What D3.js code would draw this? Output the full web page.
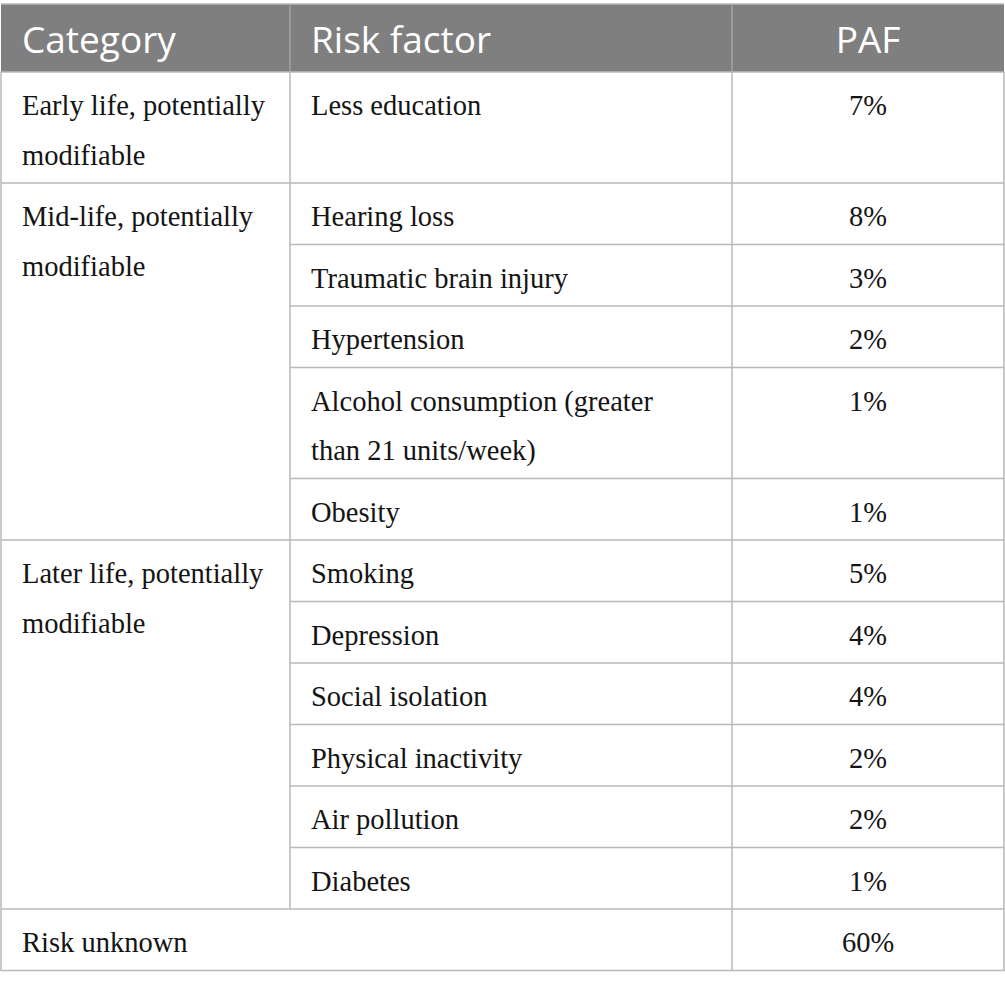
<!DOCTYPE html>
<html>
<head>
<meta charset="utf-8">
<script src="https://cdn.jsdelivr.net/npm/d3@7"></script>
<style>
  body { margin: 0; background: #fff; }
  svg { display: block; }
</style>
</head>
<body>
<div id="tabla"></div>
<script>
// datos de la tabla
const headers = ["Category", "Risk factor", "PAF"];
const categories = ["Early life, potentially modifiable", "Mid-life, potentially modifiable", "Later life, potentially modifiable"];
const factors = ["Less education", "Hearing loss", "Traumatic brain injury", "Hypertension",
    "Alcohol consumption (greater than 21 units/week)", "Obesity", "Smoking", "Depression",
    "Social isolation", "Physical inactivity", "Air pollution", "Diabetes"];
const factorGroup = [0, 1, 1, 1, 1, 1, 2, 2, 2, 2, 2, 2];
const pafValues = [7, 8, 3, 2, 1, 1, 5, 4, 4, 2, 2, 1];
const unknownLabel = "Risk unknown";
const unknownPaf = 60;

function crearTabla(width, height) {
    const top = 4, headerH = 68, lineH = 49.5, pad = 6, textX = 21;
    const x = d3.scaleOrdinal().domain(["left", "cat", "factor", "right"]).range([1, 290, 732, 1004]);
    const fmt = d => d + "%";
    const bodyFont = "'Liberation Serif', 'DejaVu Serif', serif";
    const headFont = "'Open Sans', 'Noto Sans', sans-serif";

    const svg = d3.select("#tabla").append("svg")
        .attr("width", width)
        .attr("height", height)
        .attr("viewBox", [0, 0, width, height]);

    // medir texto para partir lineas
    const medidor = svg.append("text").style("font-family", bodyFont).style("font-size", "28.5px");
    const wrap = (str, maxW) => {
        const words = str.split(" ");
        const lines = [];
        let cur = "";
        words.forEach(w => {
            const test = cur ? cur + " " + w : w;
            medidor.text(test);
            if (cur && medidor.node().getComputedTextLength() > maxW) {
                lines.push(cur);
                cur = w;
            } else cur = test;
        });
        lines.push(cur);
        return lines;
    };
    const catW = x("cat") - x("left") - 2 * textX;
    const facW = 370;

    const catLines = categories.map(c => wrap(c, catW));
    const rows = factors.map((f, i) => ({
        factor: wrap(f, facW),
        paf: pafValues[i],
        group: factorGroup[i],
        first: i === 0 || factorGroup[i - 1] !== factorGroup[i]
    }));
    rows.forEach(r => {
        const n = Math.max(r.factor.length, r.first && r.group === 0 ? catLines[r.group].length : 1);
        r.h = 2 * pad + lineH * n;
    });
    let yPos = top + headerH;
    rows.forEach(r => { r.y = yPos; yPos += r.h; });
    const unknownY = yPos;
    const unknownH = 2 * pad + lineH;
    medidor.remove();

    // cabecera
    svg.append("rect")
        .attr("x", x("left")).attr("y", top)
        .attr("width", x("right") - x("left")).attr("height", headerH)
        .attr("fill", "#7f7f7f");

    const colX = [x("left") + textX, x("cat") + textX, (x("factor") + x("right")) / 2];
    svg.append("g").selectAll("text")
        .data(headers)
        .join("text")
        .attr("x", (d, i) => colX[i])
        .attr("y", top + 49)
        .attr("text-anchor", (d, i) => i === 2 ? "middle" : "start")
        .style("font-family", headFont)
        .style("font-size", "37px")
        .style("fill", "#fff")
        .text(d => d);

    // lineas
    const lineas = svg.append("g")
        .attr("stroke", "#b9b9b9")
        .attr("stroke-width", 1.5)
        .attr("fill", "none");

    lineas.append("line")
        .attr("x1", x("left")).attr("x2", x("right"))
        .attr("y1", top).attr("y2", top);
    // separadores en la cabecera
    ["cat", "factor"].forEach(k => {
        lineas.append("line")
            .attr("x1", x(k)).attr("x2", x(k))
            .attr("y1", top).attr("y2", top + headerH)
            .attr("stroke", "#a3a3a3");
    });

    const bodyTop = top + headerH;
    const bottom = unknownY + unknownH;
    lineas.append("rect")
        .attr("x", x("left")).attr("y", bodyTop)
        .attr("width", x("right") - x("left")).attr("height", bottom - bodyTop);
    lineas.append("line")
        .attr("x1", x("cat")).attr("x2", x("cat"))
        .attr("y1", bodyTop).attr("y2", unknownY);
    lineas.append("line")
        .attr("x1", x("factor")).attr("x2", x("factor"))
        .attr("y1", bodyTop).attr("y2", bottom);

    lineas.selectAll("line.fila")
        .data(rows.slice(1).concat([{ y: unknownY, first: true }]))
        .join("line")
        .attr("class", "fila")
        .attr("x1", d => d.first ? x("left") : x("cat"))
        .attr("x2", x("right"))
        .attr("y1", d => d.y).attr("y2", d => d.y);

    // texto del cuerpo
    const cuerpo = svg.append("g")
        .style("font-family", bodyFont)
        .style("font-size", "28.5px")
        .style("fill", "#141414");
    const base = 43;

    cuerpo.selectAll("text.cat")
        .data(rows.filter(r => r.first))
        .join("text")
        .attr("class", "cat")
        .attr("x", x("left") + textX)
        .attr("y", d => d.y + base)
        .selectAll("tspan")
        .data(d => catLines[d.group])
        .join("tspan")
        .attr("x", x("left") + textX)
        .attr("dy", (d, i) => i === 0 ? 0 : lineH)
        .text(d => d);

    cuerpo.selectAll("text.factor")
        .data(rows)
        .join("text")
        .attr("class", "factor")
        .attr("x", x("cat") + textX)
        .attr("y", d => d.y + base)
        .selectAll("tspan")
        .data(d => d.factor)
        .join("tspan")
        .attr("x", x("cat") + textX)
        .attr("dy", (d, i) => i === 0 ? 0 : lineH)
        .text(d => d);

    cuerpo.selectAll("text.paf")
        .data(rows.map(r => ({ y: r.y, v: r.paf })).concat([{ y: unknownY, v: unknownPaf }]))
        .join("text")
        .attr("class", "paf")
        .attr("x", colX[2])
        .attr("y", d => d.y + base)
        .attr("text-anchor", "middle")
        .text(d => fmt(d.v));

    cuerpo.append("text")
        .attr("x", x("left") + textX)
        .attr("y", unknownY + base)
        .text(unknownLabel);
}

crearTabla(1005, 989);
</script>
</body>
</html>
